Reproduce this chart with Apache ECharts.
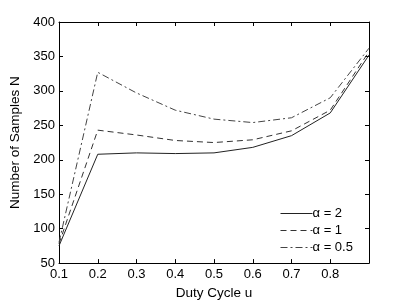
<!DOCTYPE html>
<html><head><meta charset="utf-8">
<script src="https://cdn.jsdelivr.net/npm/echarts@6/dist/echarts.min.js"></script>
<style>html,body{margin:0;padding:0;background:#fff}#c{width:407px;height:305px}</style>
</head><body><div id="c"></div>
<script>
var categories = ['0.1','0.2','0.3','0.4','0.5','0.6','0.7','0.8','0.9'];
var alpha2 = [75, 208, 210, 209, 210, 218, 235, 268, 352];
var alpha1 = [78, 243, 236, 228, 225, 229, 242, 272, 357];
var alpha05 = [80, 327, 297, 272, 259, 254, 261, 290, 362];
var seriesNames = ['\u03b1 = 2', '\u03b1 = 1', '\u03b1 = 0.5'];

var font = 'Liberation Sans, Arial, Helvetica, sans-serif';
var chart = echarts.init(document.getElementById('c'), null, {renderer:'canvas'});
var axisLine = {show:true, lineStyle:{color:'#000', width:1}};
function mk(name, data, type, color){
  return {name:name, type:'line', data:data, xAxisIndex:0, yAxisIndex:0,
    symbol:'none', showSymbol:false, animation:false,
    lineStyle:{color:color, width:1, type:type}, itemStyle:{color:color}};
}
chart.setOption({
  animation:false,
  backgroundColor:'#fff',
  textStyle:{fontFamily:font},
  grid:{left:53, right:38, top:22, bottom:34, containLabel:false},
  legend:{
    left:275, top:202,
    orient:'vertical', itemWidth:32, itemHeight:14, itemGap:4,
    itemStyle:{opacity:0},
    lineStyle:{width:1},
    textStyle:{fontFamily:font, fontSize:13, color:'#000', padding:[0,0,0,-5]},
    data:seriesNames
  },
  xAxis:[{
    type:'category', data:categories, boundaryGap:false,
    name:'Duty Cycle u', nameLocation:'middle', nameGap:18,
    nameTextStyle:{fontFamily:font, fontSize:13.5, color:'#000'},
    axisLine:axisLine,
    axisTick:{show:true, inside:true, length:4, alignWithLabel:true, lineStyle:{color:'#000'}},
    axisLabel:{fontFamily:font, fontSize:13, color:'#000', margin:5,
      formatter:function(v){ return v==='0.9' ? '' : v; }},
    splitLine:{show:false}
  },{
    type:'category', data:categories, boundaryGap:false, position:'top',
    axisLine:axisLine,
    axisTick:{show:true, inside:true, length:4, lineStyle:{color:'#000'}},
    axisLabel:{show:false}, splitLine:{show:false}
  }],
  yAxis:[{
    type:'value', min:50, max:400, interval:50,
    name:'Number of Samples N', nameLocation:'middle', nameGap:37,
    nameTextStyle:{fontFamily:font, fontSize:13.5, color:'#000'},
    axisLine:axisLine,
    axisTick:{show:true, inside:true, length:4, lineStyle:{color:'#000'}},
    axisLabel:{fontFamily:font, fontSize:13, color:'#000', margin:4},
    splitLine:{show:false}
  },{
    type:'value', min:50, max:400, interval:50, position:'right',
    axisLine:axisLine,
    axisTick:{show:true, inside:true, length:4, lineStyle:{color:'#000'}},
    axisLabel:{show:false}, splitLine:{show:false}
  }],
  series:[
    mk(seriesNames[0], alpha2, 'solid', '#222'),
    mk(seriesNames[1], alpha1, [6,4], '#333'),
    mk(seriesNames[2], alpha05, [7,3,2,3], '#444')
  ]
});
</script></body></html>
